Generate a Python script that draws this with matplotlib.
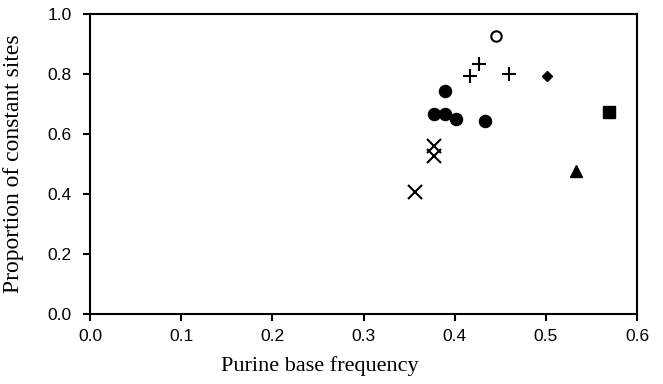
import matplotlib
matplotlib.use('Agg')
import matplotlib.pyplot as plt

# Данные по группам (частота пуринов, доля константных сайтов)
circle_x = [0.389, 0.377, 0.389, 0.402, 0.433]
circle_y = [0.744, 0.668, 0.668, 0.649, 0.642]
open_x = [0.445]
open_y = [0.927]
plus_x = [0.427, 0.417, 0.460]
plus_y = [0.832, 0.793, 0.799]
diamond_x = [0.501]
diamond_y = [0.793]
square_x = [0.569]
square_y = [0.674]
triangle_x = [0.533]
triangle_y = [0.478]
cross_x = [0.377, 0.377, 0.356]
cross_y = [0.560, 0.528, 0.408]

xticks = [0.0, 0.1, 0.2, 0.3, 0.4, 0.5, 0.6]
yticks = [0.0, 0.2, 0.4, 0.6, 0.8, 1.0]

fig = plt.figure(figsize=(6.63, 3.84), dpi=100)
ax = fig.add_axes([90 / 663, 1 - 314 / 384, 547 / 663, 300 / 384])

ax.plot(circle_x, circle_y, 'o', color='black', markersize=8.7, linestyle='none')
ax.plot(open_x, open_y, 'o', markerfacecolor='white', markeredgecolor='black',
        markeredgewidth=1.5, markersize=7.5, linestyle='none')
ax.plot(plus_x, plus_y, '+', color='black', markersize=10, markeredgewidth=1.5, linestyle='none')
ax.plot(diamond_x, diamond_y, 'D', color='black', markersize=5.5, linestyle='none')
ax.plot(square_x, square_y, 's', color='black', markersize=8, linestyle='none')
ax.plot(triangle_x, triangle_y, '^', color='black', markersize=8.5, linestyle='none')
ax.plot(cross_x, cross_y, 'x', color='black', markersize=9.5, markeredgewidth=1.5, linestyle='none')

ax.set_xlim(0, 0.6)
ax.set_ylim(0, 1.0)
ax.set_xticks(xticks)
ax.set_yticks(yticks)
ax.set_xticklabels([f'{v:.1f}' for v in xticks], fontname='Liberation Sans', fontsize=12.5)
ax.set_yticklabels([f'{v:.1f}' for v in yticks], fontname='Liberation Sans', fontsize=12.5)
ax.tick_params(direction='out', length=5, width=1.5)
ax.tick_params(axis='y', pad=8)
ax.tick_params(axis='x', pad=6)
for s in ax.spines.values():
    s.set_linewidth(1.5)

ax.set_xlabel('Purine base frequency', fontname='Liberation Serif', fontsize=16)
ax.set_ylabel('Proportion of constant sites', fontname='Liberation Serif', fontsize=17)
ax.xaxis.set_label_coords(0.42, -0.14)
ax.yaxis.set_label_coords(-0.12, 0.5)

fig.savefig('out.png', dpi=100)
